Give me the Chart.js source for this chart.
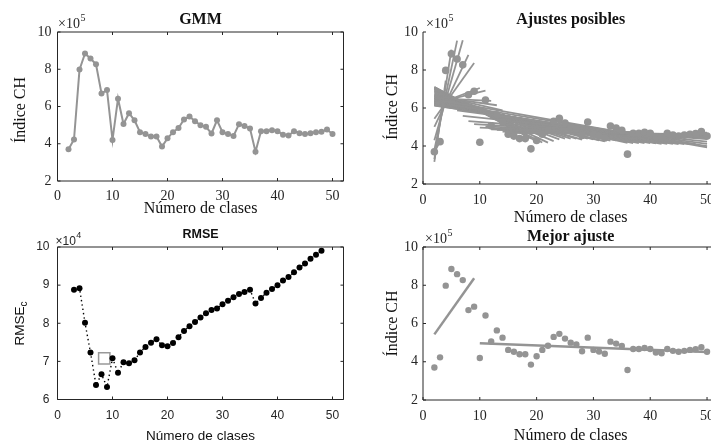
<!DOCTYPE html>
<html>
<head>
<meta charset="utf-8">
<script src="https://cdn.jsdelivr.net/npm/chart.js@4.4.1/dist/chart.umd.min.js"></script>
<style>
    html, body { margin: 0; padding: 0; background: #fff; width: 711px; height: 447px; overflow: hidden; }
    canvas { position: absolute; left: 0; top: 0; }
</style>
</head>
<body>
<canvas id="gmm" width="740" height="447"></canvas>
<canvas id="ajustes" width="740" height="447"></canvas>
<canvas id="rmse" width="740" height="447"></canvas>
<canvas id="mejor" width="740" height="447"></canvas>
<script>
// ==========================
// DATA
// ==========================
// número de clases (k)
const clases = [2, 3, 4, 5, 6, 7, 8, 9, 10, 11, 12, 13, 14, 15, 16, 17, 18, 19, 20, 21, 22, 23, 24, 25,
    26, 27, 28, 29, 30, 31, 32, 33, 34, 35, 36, 37, 38, 39, 40, 41, 42, 43, 44, 45, 46, 47, 48, 49, 50];
// índice CH (x 1e5)
const indiceCH = [3.70, 4.23, 7.98, 8.85, 8.58, 8.27, 6.70, 6.88, 4.20, 6.42, 5.06, 5.64, 5.26, 4.62,
    4.52, 4.39, 4.39, 3.85, 4.29, 4.62, 4.84, 5.30, 5.46, 5.21, 5.00, 4.91, 4.55, 5.26, 4.62, 4.53,
    4.42, 5.05, 4.95, 4.82, 3.57, 4.67, 4.67, 4.72, 4.67, 4.48, 4.44, 4.67, 4.57, 4.52, 4.57, 4.62,
    4.65, 4.76, 4.52];
// punto de corte c y RMSE_c (x 1e4)
const cortes = [3, 4, 5, 6, 7, 8, 9, 10, 11, 12, 13, 14, 15, 16, 17, 18, 19, 20, 21, 22, 23, 24, 25,
    26, 27, 28, 29, 30, 31, 32, 33, 34, 35, 36, 37, 38, 39, 40, 41, 42, 43, 44, 45, 46, 47, 48];
const rmse = [8.88, 8.92, 8.01, 7.23, 6.38, 6.66, 6.33, 7.08, 6.70, 6.98, 6.95, 7.03, 7.23, 7.38,
    7.49, 7.58, 7.42, 7.40, 7.48, 7.63, 7.80, 7.92, 8.03, 8.15, 8.26, 8.35, 8.39, 8.50, 8.59, 8.68,
    8.77, 8.82, 8.88, 8.52, 8.66, 8.80, 8.90, 9.00, 9.12, 9.21, 9.34, 9.46, 9.57, 9.69, 9.80, 9.90];
// marca cuadrada del panel RMSE
const marcaX = [8.5];
const marcaY = [7.08];
const mejorCorte = 9;

// ticks
const ticksX = [0, 10, 20, 30, 40, 50];
const ticksCH = [2, 4, 6, 8, 10];
const ticksRMSE = [6, 7, 8, 9, 10];

// ==========================
// HELPERS
// ==========================
const GRIS = "#949494";
const EJE = "#262626";
const SERIF = "'Liberation Serif', 'Times New Roman', serif";
const SANS = "'Liberation Sans', Arial, sans-serif";

const pares = (xs, ys) => xs.map((x, i) => ({ x, y: ys[i] }));

// recta de mínimos cuadrados sobre un tramo
function ajuste(xs, ys) {
    const n = xs.length;
    const mx = xs.reduce((a, b) => a + b, 0) / n;
    const my = ys.reduce((a, b) => a + b, 0) / n;
    let sxy = 0, sxx = 0;
    xs.forEach((x, i) => {
        sxy += (x - mx) * (ys[i] - my);
        sxx += (x - mx) * (x - mx);
    });
    const m = sxy / sxx;
    const b = my - m * mx;
    return [{ x: xs[0], y: b + m * xs[0] }, { x: xs[n - 1], y: b + m * xs[n - 1] }];
}

function tramos(c) {
    const i = clases.indexOf(c);
    return [
        ajuste(clases.slice(0, i + 1), indiceCH.slice(0, i + 1)),
        ajuste(clases.slice(i + 1), indiceCH.slice(i + 1))
    ];
}

const recta = (data, width) => ({
    data, showLine: true, borderColor: GRIS, borderWidth: width,
    pointRadius: 0, fill: false
});

// marco, ticks hacia dentro y textos
function marco(cfg) {
    return {
        id: "marco",
        afterDraw(chart) {
            const { ctx, chartArea: a, scales } = chart;
            ctx.save();
            ctx.strokeStyle = EJE;
            ctx.lineWidth = 1;
            ctx.beginPath();
            ctx.moveTo(a.left, a.top);
            ctx.lineTo(a.left, a.bottom);
            ctx.lineTo(a.right, a.bottom);
            if (cfg.caja) {
                ctx.lineTo(a.right, a.top);
                ctx.lineTo(a.left, a.top);
            }
            ticksX.forEach(v => {
                const px = scales.x.getPixelForValue(v);
                ctx.moveTo(px, a.bottom);
                ctx.lineTo(px, a.bottom - 3);
                if (cfg.caja) {
                    ctx.moveTo(px, a.top);
                    ctx.lineTo(px, a.top + 3);
                }
            });
            cfg.ticksY.forEach(v => {
                const py = scales.y.getPixelForValue(v);
                ctx.moveTo(a.left, py);
                ctx.lineTo(a.left + 3, py);
                if (cfg.caja) {
                    ctx.moveTo(a.right, py);
                    ctx.lineTo(a.right - 3, py);
                }
            });
            ctx.stroke();

            const cx = (a.left + a.right) / 2;
            ctx.fillStyle = "#111";
            ctx.textAlign = "center";
            ctx.textBaseline = "alphabetic";

            // título
            ctx.font = cfg.fTitulo;
            ctx.fillText(cfg.titulo, cx, cfg.yTitulo);

            // eje x
            ctx.font = cfg.fEtiqueta;
            ctx.fillText("Número de clases", cx, cfg.yEtiquetaX);

            // eje y (girado)
            ctx.save();
            ctx.translate(cfg.xEtiquetaY, cfg.cyEtiquetaY);
            ctx.rotate(-Math.PI / 2);
            if (cfg.subindice) {
                ctx.font = cfg.fEtiqueta;
                const w1 = ctx.measureText(cfg.etiquetaY).width;
                ctx.font = cfg.fSub;
                const w2 = ctx.measureText(cfg.subindice).width;
                ctx.textAlign = "left";
                ctx.font = cfg.fEtiqueta;
                ctx.fillText(cfg.etiquetaY, -(w1 + w2) / 2, 0);
                ctx.font = cfg.fSub;
                ctx.fillText(cfg.subindice, -(w1 + w2) / 2 + w1, 3);
            } else {
                ctx.fillText(cfg.etiquetaY, 0, 0);
            }
            ctx.restore();

            // exponente
            ctx.textAlign = "left";
            ctx.fillStyle = EJE;
            ctx.font = cfg.fExp;
            ctx.fillText("×10", a.left + cfg.dxExp, cfg.yExp);
            const wx = ctx.measureText("×10").width;
            ctx.font = cfg.fExpSup;
            ctx.fillText(cfg.exp, a.left + cfg.dxExp + wx + 0.5, cfg.yExp - 7);
            ctx.restore();
        }
    };
}

function escalas(p, ticksY, yMin, yMax, fuente, padY, padX) {
    return {
        x: {
            type: "linear", min: 0, max: 52,
            afterFit: s => { s.height = 30; },
            afterBuildTicks: s => { s.ticks = ticksX.map(v => ({ value: v })); },
            grid: { display: false, drawTicks: false },
            border: { display: false },
            ticks: { padding: padX, color: EJE, font: fuente, maxRotation: 0, autoSkip: false }
        },
        y: {
            type: "linear", min: yMin, max: yMax,
            afterFit: s => { s.width = 45; },
            afterBuildTicks: s => { s.ticks = ticksY.map(v => ({ value: v })); },
            grid: { display: false, drawTicks: false },
            border: { display: false },
            ticks: { padding: padY, color: EJE, font: fuente, autoSkip: false }
        }
    };
}

function opciones(p, sc) {
    return {
        responsive: false,
        animation: false,
        layout: {
            padding: {
                left: p.left - 45,
                top: p.top,
                right: 740 - p.right,
                bottom: 447 - p.bottom - 30
            }
        },
        plugins: { legend: { display: false }, tooltip: { enabled: false } },
        scales: sc
    };
}

const fTick = { family: SERIF, size: 14 };
const fTickSans = { family: SANS, size: 12 };

// ==========================
// GMM
// ==========================
const p1 = { left: 57.5, right: 343.5, top: 32, bottom: 181 };
new Chart(document.getElementById("gmm"), {
    type: "scatter",
    data: {
        datasets: [{
            data: pares(clases, indiceCH),
            showLine: true,
            borderColor: GRIS,
            borderWidth: 2,
            pointRadius: 3,
            pointBackgroundColor: GRIS,
            pointBorderWidth: 0
        }]
    },
    options: opciones(p1, escalas(p1, ticksCH, 2, 10, fTick, 6, 7)),
    plugins: [marco({
        caja: true, ticksY: ticksCH,
        titulo: "GMM", fTitulo: "bold 16px " + SERIF, yTitulo: 23.5,
        fEtiqueta: "16px " + SERIF, yEtiquetaX: 213,
        etiquetaY: "Índice CH", xEtiquetaY: 25, cyEtiquetaY: 110,
        fExp: "14px " + SERIF, fExpSup: "10px " + SERIF, exp: "5", dxExp: 0.5, yExp: 28
    })]
});

// ==========================
// AJUSTES POSIBLES
// ==========================
const p2 = { left: 423, right: 718.4, top: 32, bottom: 184 };
const lineasAjuste = [];
cortes.forEach(c => {
    const [izq, der] = tramos(c);
    lineasAjuste.push(recta(izq, 1.8), recta(der, 1.8));
});
new Chart(document.getElementById("ajustes"), {
    type: "scatter",
    data: {
        datasets: [{
            data: pares(clases, indiceCH),
            pointRadius: 3.8,
            pointBackgroundColor: GRIS,
            pointBorderWidth: 0
        }, ...lineasAjuste]
    },
    options: opciones(p2, escalas(p2, ticksCH, 2, 10, fTick, 5, 8)),
    plugins: [marco({
        caja: false, ticksY: ticksCH,
        titulo: "Ajustes posibles", fTitulo: "bold 16px " + SERIF, yTitulo: 24,
        fEtiqueta: "16px " + SERIF, yEtiquetaX: 222,
        etiquetaY: "Índice CH", xEtiquetaY: 396.5, cyEtiquetaY: 107,
        fExp: "14px " + SERIF, fExpSup: "10px " + SERIF, exp: "5", dxExp: 3, yExp: 28
    })]
});

// ==========================
// RMSE
// ==========================
const p3 = { left: 57.5, right: 343.5, top: 247, bottom: 399.5 };
new Chart(document.getElementById("rmse"), {
    type: "scatter",
    data: {
        datasets: [{
            data: pares(cortes, rmse),
            showLine: true,
            borderColor: "#000",
            borderWidth: 1.4,
            borderDash: [1.4, 3],
            pointRadius: 3,
            pointBackgroundColor: "#000",
            pointBorderWidth: 0
        }, {
            data: pares(marcaX, marcaY),
            pointStyle: "rect",
            pointRadius: 8,
            pointBackgroundColor: "rgba(0,0,0,0)",
            pointBorderColor: "#999",
            pointBorderWidth: 1.5
        }]
    },
    options: opciones(p3, escalas(p3, ticksRMSE, 6, 10, fTickSans, 8, 9)),
    plugins: [marco({
        caja: true, ticksY: ticksRMSE,
        titulo: "RMSE", fTitulo: "bold 12.5px " + SANS, yTitulo: 238,
        fEtiqueta: "13.5px " + SANS, yEtiquetaX: 440,
        etiquetaY: "RMSE", subindice: "c", fSub: "10px " + SANS,
        xEtiquetaY: 24, cyEtiquetaY: 323.5,
        fExp: "12px " + SANS, fExpSup: "9px " + SANS, exp: "4", dxExp: -2, yExp: 245
    })]
});

// ==========================
// MEJOR AJUSTE
// ==========================
const p4 = { left: 423, right: 718.4, top: 247, bottom: 400 };
const [mejorIzq, mejorDer] = tramos(mejorCorte);
new Chart(document.getElementById("mejor"), {
    type: "scatter",
    data: {
        datasets: [{
            data: pares(clases, indiceCH),
            pointRadius: 3.2,
            pointBackgroundColor: GRIS,
            pointBorderWidth: 0
        }, recta(mejorIzq, 2.5), recta(mejorDer, 2.5)]
    },
    options: opciones(p4, escalas(p4, ticksCH, 2, 10, fTick, 5, 8)),
    plugins: [marco({
        caja: true, ticksY: ticksCH,
        titulo: "Mejor ajuste", fTitulo: "bold 16px " + SERIF, yTitulo: 240.5,
        fEtiqueta: "16px " + SERIF, yEtiquetaX: 440,
        etiquetaY: "Índice CH", xEtiquetaY: 396.5, cyEtiquetaY: 323.5,
        fExp: "14px " + SERIF, fExpSup: "10px " + SERIF, exp: "5", dxExp: 2, yExp: 243
    })]
});
</script>
</body>
</html>
